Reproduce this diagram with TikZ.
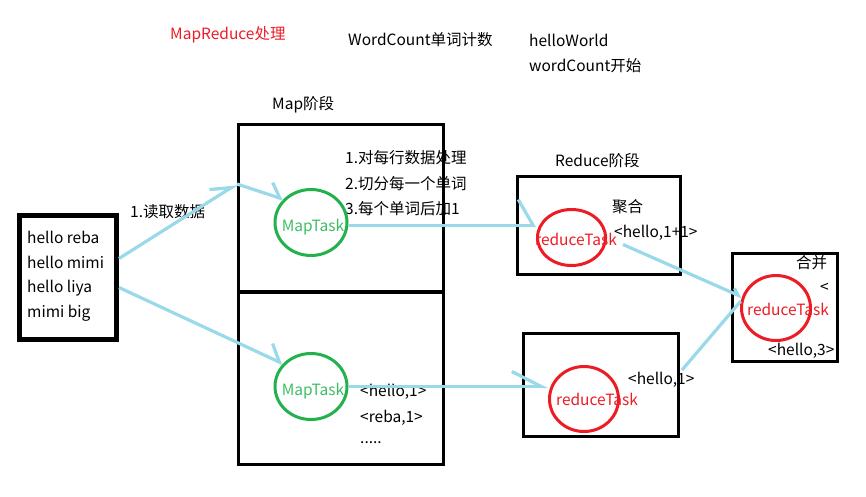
\documentclass[tikz,border=0pt]{standalone}
\usepackage{fontspec}
\setmainfont{Noto Sans CJK SC}
\usetikzlibrary{arrows.meta, shapes.geometric}
\definecolor{paintred}{RGB}{237,28,36}
\definecolor{paintgreen}{RGB}{34,177,76}
\definecolor{taskgreen}{RGB}{60,190,100}
\definecolor{paintblue}{RGB}{153,217,234}

\begin{document}
\begin{tikzpicture}[x=1pt,y=-1pt,
        txt/.style={anchor=west,inner sep=0pt,font=\fontsize{15.5}{18}\selectfont},
        task/.style={inner sep=0pt,font=\fontsize{15.5}{18}\selectfont},
        box/.style={draw,line width=3.4pt,inner sep=0pt},
        tasknode/.style={draw,ellipse,line width=3pt,inner sep=0pt},
        flow/.style={draw=paintblue,line width=3.2pt},
        barb/.style 2 args={-{Straight Barb[harpoon,length=#1,width=#2]}}]
            \useasboundingbox (0,0) rectangle (866,496);

            % titles
            \node[txt,paintred] (title) at (170,35) {MapReduce处理};
            \node[txt] (wc) at (348,40) {WordCount单词计数};
            \node[txt] (hw) at (529,40) {helloWorld};
            \node[txt] (wcstart) at (529,66) {wordCount开始};
            \node[txt] (mapstage) at (272,105) {Map阶段};
            \node[txt] (redstage) at (555,161) {Reduce阶段};
            \node[txt] (read) at (130,212) {1.读取数据};

            % input lines
            \node[txt] (l1) at (27,237) {hello reba};
            \node[txt] (l2) at (27,262) {hello mimi};
            \node[txt] (l3) at (27,288) {hello liya};
            \node[txt] (l4) at (27,313) {mimi big};

            % map steps and output
            \node[txt] (s1) at (345,158) {1.对每行数据处理};
            \node[txt] (s2) at (345,184) {2.切分每一个单词};
            \node[txt] (s3) at (345,209) {3.每个单词后加1};
            \node[txt] (o1) at (360,392) {<hello,1>};
            \node[txt] (o2) at (360,418) {<reba,1>};
            \node[txt] (o3) at (360,443) {.....};

            % reduce texts
            \node[txt] (agg) at (612,207) {聚合};
            \node[txt] (sum) at (614,233) {<hello,1+1>};
            \node[txt] (one) at (628,380) {<hello,1>};
            \node[txt] (merge) at (796,263) {合并};
            \node[txt] (lt) at (820,288) {<};
            \node[txt] (total) at (768,351) {<hello,3>};

            % task labels
            \node[task,taskgreen] (m1t) at (313,227) {MapTask};
            \node[task,taskgreen] (m2t) at (313,391) {MapTask};
            \node[task,paintred] (r1t) at (576,239) {reduceTask};
            \node[task,paintred] (r2t) at (597,399) {reduceTask};
            \node[task,paintred] (r3t) at (788,309) {reduceTask};

            % boxes
            \node[box,line width=5pt,minimum width=97pt,minimum height=124pt] (input) at (68,277.5) {};
            \node[box,minimum width=204.6pt,minimum height=339.6pt] (mapbox) at (341,294.5) {};
            \draw[line width=3.4pt] (237,292) -- (445,292);
            \node[box,minimum width=162.6pt,minimum height=97.6pt] (redbox1) at (599,225.5) {};
            \node[box,minimum width=154.6pt,minimum height=102.6pt] (redbox2) at (601,385) {};
            \node[box,minimum width=104.6pt,minimum height=107.6pt] (mergebox) at (785,307.5) {};

            % tasks
            \node[tasknode,paintgreen,minimum width=72pt,minimum height=66pt] (map1) at (311,222.5) {};
            \node[tasknode,paintgreen,minimum width=72pt,minimum height=66pt] (map2) at (311,386.5) {};
            \node[tasknode,paintred,minimum width=68pt,minimum height=56pt] (red1) at (571.5,237.5) {};
            \node[tasknode,paintred,minimum width=69pt,minimum height=65pt] (red2) at (584,399) {};
            \node[tasknode,paintred,minimum width=69pt,minimum height=65pt] (red3) at (776,308) {};

            % data flow
            \coordinate (corner) at (237,184);
            \draw[flow,barb={19.6pt}{20pt}] ([yshift=19pt]input.east) -- (corner);
            \draw[flow,barb={11.6pt}{25pt}] (corner) -- (map1.140);
            \draw[flow,barb={14pt}{28pt}] ([yshift=-10pt]input.east) -- (map2.141);
            \draw[flow,barb={15pt}{52pt}] ([yshift=-3pt]map1.east) -- ([yshift=-3pt]map1.east -| red1.west);
            \draw[flow,barb={29.5pt}{30pt}] (map2.east) -- (map2.east -| red2.west);
            \draw[flow,barb={6pt}{10pt}] ([xshift=16pt,yshift=-7pt]red1.east) -- (red3.162);
            \draw[flow] ([xshift=2pt,yshift=15pt]redbox2.east) -- (red3.169);
\end{tikzpicture}
\end{document}
